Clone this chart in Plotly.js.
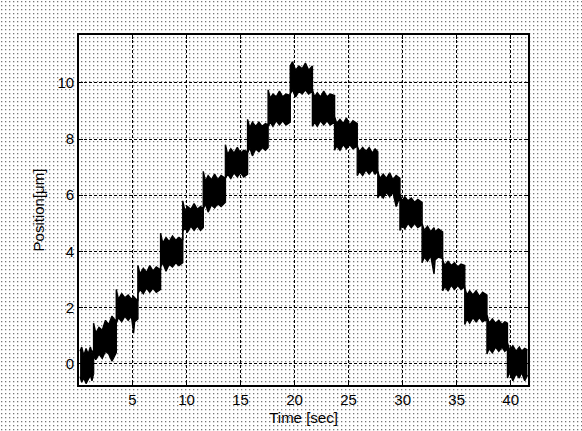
<!DOCTYPE html>
<html>
<head>
<meta charset="utf-8">
<script src="https://cdn.plot.ly/plotly-3.0.1.min.js"></script>
<style>
html, body { margin: 0; padding: 0; width: 582px; height: 431px; overflow: hidden;
  background-color: #ffffff;
  background-image: url("data:image/svg+xml,%3Csvg xmlns='http://www.w3.org/2000/svg' width='4' height='4'%3E%3Crect x='1' y='1' width='1.3' height='1.3' fill='%23777777'/%3E%3C/svg%3E");
  background-size: 4px 4px; }
#chart { width: 582px; height: 431px; }
</style>
</head>
<body>
<div id="chart"></div>
<script>
// Time samples [sec] shared by the upper and lower envelope.
var envTime = [
  0.15, 0.3, 0.5, 0.7, 0.9, 1.1, 1.25, 1.4,
  1.4, 1.6, 1.9, 2.2, 2.5, 2.8, 3.1, 3.5,
  3.5, 3.7, 4.0, 4.3, 4.6, 4.9, 5.1, 5.2, 5.5,
  5.5, 5.7, 6.0, 6.3, 6.6, 6.9, 7.2, 7.6,
  7.6, 7.8, 8.1, 8.4, 8.7, 9.0, 9.3, 9.65,
  9.65, 9.85, 10.1, 10.4, 10.7, 11.0, 11.3, 11.55,
  11.55, 11.75, 12.0, 12.3, 12.6, 12.9, 13.2, 13.6,
  13.6, 13.8, 14.1, 14.4, 14.7, 15.0, 15.3, 15.65,
  15.65, 15.85, 16.1, 16.4, 16.7, 17.0, 17.3, 17.55,
  17.55, 17.75, 18.0, 18.3, 18.6, 18.9, 19.2, 19.6,
  19.6, 19.8, 20.1, 20.4, 20.7, 21.0, 21.3, 21.65,
  21.65, 21.85, 22.1, 22.4, 22.7, 23.0, 23.3, 23.7,
  23.7, 23.9, 24.2, 24.5, 24.8, 25.1, 25.4, 25.8,
  25.8, 26.0, 26.3, 26.6, 26.9, 27.2, 27.45, 27.7,
  27.7, 27.9, 28.2, 28.5, 28.8, 29.1, 29.4, 29.75,
  29.75, 29.95, 30.2, 30.5, 30.8, 31.1, 31.4, 31.8,
  31.8, 32.0, 32.3, 32.6, 32.9, 33.0, 33.3, 33.7,
  33.7, 33.9, 34.2, 34.5, 34.8, 35.1, 35.4, 35.75,
  35.75, 35.95, 36.2, 36.5, 36.8, 37.1, 37.4, 37.8,
  37.8, 38.0, 38.3, 38.6, 38.9, 39.2, 39.45, 39.7,
  39.7, 39.9, 40.2, 40.5, 40.8, 41.0, 41.3, 41.55
];
// Upper edge of the noise band [µm]
var envUpper = [
  0.45, 0.6, 0.3, 0.55, 0.35, 0.6, 0.4, 0.5,
  1.45, 1.1, 1.3, 1.2, 1.55, 1.4, 1.7, 1.5,
  2.65, 2.3, 2.5, 2.35, 2.45, 2.3, 2.4, 2.35, 2.25,
  3.5, 3.2, 3.4, 3.25, 3.5, 3.3, 3.45, 3.35,
  4.65, 4.3, 4.5, 4.35, 4.55, 4.4, 4.5, 4.4,
  5.8, 5.45, 5.6, 5.5, 5.7, 5.5, 5.6, 5.5,
  6.85, 6.5, 6.7, 6.55, 6.75, 6.55, 6.7, 6.6,
  7.8, 7.45, 7.65, 7.5, 7.7, 7.5, 7.6, 7.55,
  8.7, 8.4, 8.6, 8.45, 8.6, 8.45, 8.55, 8.5,
  9.75, 9.45, 9.6, 9.5, 9.7, 9.5, 9.6, 9.55,
  10.6, 10.75, 10.45, 10.6, 10.5, 10.7, 10.45, 10.6,
  9.75, 9.5, 9.65, 9.5, 9.7, 9.5, 9.6, 9.55,
  8.8, 8.55, 8.7, 8.55, 8.75, 8.5, 8.65, 8.55,
  7.75, 7.55, 7.7, 7.55, 7.7, 7.5, 7.65, 7.55,
  6.85, 6.6, 6.75, 6.6, 6.8, 6.55, 6.7, 6.6,
  6.05, 5.8, 5.95, 5.8, 5.9, 5.75, 5.85, 5.75,
  5.0, 4.75, 4.9, 4.7, 4.85, 4.7, 4.8, 4.7,
  3.7, 3.5, 3.65, 3.5, 3.6, 3.45, 3.55, 3.5,
  2.7, 2.45, 2.6, 2.45, 2.6, 2.4, 2.55, 2.45,
  1.75, 1.45, 1.6, 1.45, 1.55, 1.4, 1.5, 1.45,
  0.75, 0.5, 0.65, 0.45, 0.6, 0.45, 0.55, 0.5
];
// Lower edge of the noise band [µm]
var envLower = [
  -0.45, -0.65, -0.5, -0.7, -0.55, -0.4, -0.6, -0.35,
  0.3, 0.15, 0.35, 0.2, 0.45, 0.35, 0.1, 0.4,
  1.45, 1.65, 1.5, 1.7, 1.55, 1.7, 1.1, 1.5, 1.6,
  2.5, 2.65, 2.5, 2.7, 2.55, 2.7, 2.55, 2.65,
  3.45, 3.6, 3.3, 3.55, 3.45, 3.6, 3.5, 3.6,
  4.7, 4.85, 4.7, 4.9, 4.75, 4.9, 4.75, 4.85,
  5.5, 5.7, 5.4, 5.65, 5.55, 5.7, 5.6, 5.75,
  6.6, 6.75, 6.6, 6.8, 6.65, 6.8, 6.65, 6.75,
  7.5, 7.7, 7.4, 7.65, 7.55, 7.7, 7.6, 7.7,
  8.45, 8.6, 8.45, 8.65, 8.5, 8.65, 8.5, 8.6,
  9.6, 9.75, 9.5, 9.7, 9.6, 9.75, 9.6, 9.7,
  8.45, 8.6, 8.45, 8.65, 8.5, 8.65, 8.5, 8.6,
  7.6, 7.75, 7.6, 7.8, 7.65, 7.8, 7.65, 7.75,
  6.7, 6.85, 6.7, 6.9, 6.75, 6.9, 6.75, 6.85,
  5.9, 6.05, 5.9, 6.1, 5.95, 6.1, 5.6, 5.95,
  4.75, 4.95, 4.8, 5.0, 4.85, 5.0, 4.85, 4.95,
  3.6, 3.8, 3.65, 3.85, 3.2, 3.7, 3.8, 3.75,
  2.6, 2.75, 2.6, 2.8, 2.65, 2.8, 2.65, 2.75,
  1.4, 1.6, 1.45, 1.65, 1.5, 1.65, 1.5, 1.6,
  0.35, 0.55, 0.4, 0.6, 0.45, 0.6, 0.45, 0.55,
  -0.5, -0.3, -0.6, -0.35, -0.5, -0.3, -0.6, -0.4
];
var xTickVals = [5, 10, 15, 20, 25, 30, 35, 40];
var yTickVals = [0, 2, 4, 6, 8, 10];

var traces = [
  { x: envTime, y: envUpper, type: 'scatter', mode: 'lines',
    line: { color: '#000000', width: 1.4 }, hoverinfo: 'skip', showlegend: false },
  { x: envTime, y: envLower, type: 'scatter', mode: 'lines', fill: 'tonexty',
    fillcolor: '#000000', line: { color: '#000000', width: 1.4 }, hoverinfo: 'skip', showlegend: false }
];

var fontSpec = { family: 'Liberation Sans, Arial, sans-serif', size: 15, color: '#000000' };

var axisCommon = {
  showline: true, mirror: 'ticks', linecolor: '#000000', linewidth: 1.8,
  ticks: 'inside', ticklen: 4, tickcolor: '#000000', tickwidth: 1,
  showgrid: true, gridcolor: '#000000', gridwidth: 1, griddash: '3px,2px',
  zeroline: false,
  tickfont: fontSpec
};

var layout = {
  width: 582, height: 431,
  margin: { l: 79, r: 54, t: 35, b: 46 },
  paper_bgcolor: 'rgba(0,0,0,0)',
  plot_bgcolor: 'rgba(0,0,0,0)',
  showlegend: false,
  xaxis: Object.assign({}, axisCommon, {
    range: [0.05, 41.6], tickvals: xTickVals,
    title: { text: 'Time [sec]', standoff: 6, font: fontSpec }
  }),
  yaxis: Object.assign({}, axisCommon, {
    range: [-0.75, 11.7], tickvals: yTickVals,
    title: { text: 'Position[μm]', standoff: 9, font: fontSpec }
  })
};

Plotly.newPlot('chart', traces, layout, { staticPlot: true, displayModeBar: false });
</script>
</body>
</html>
